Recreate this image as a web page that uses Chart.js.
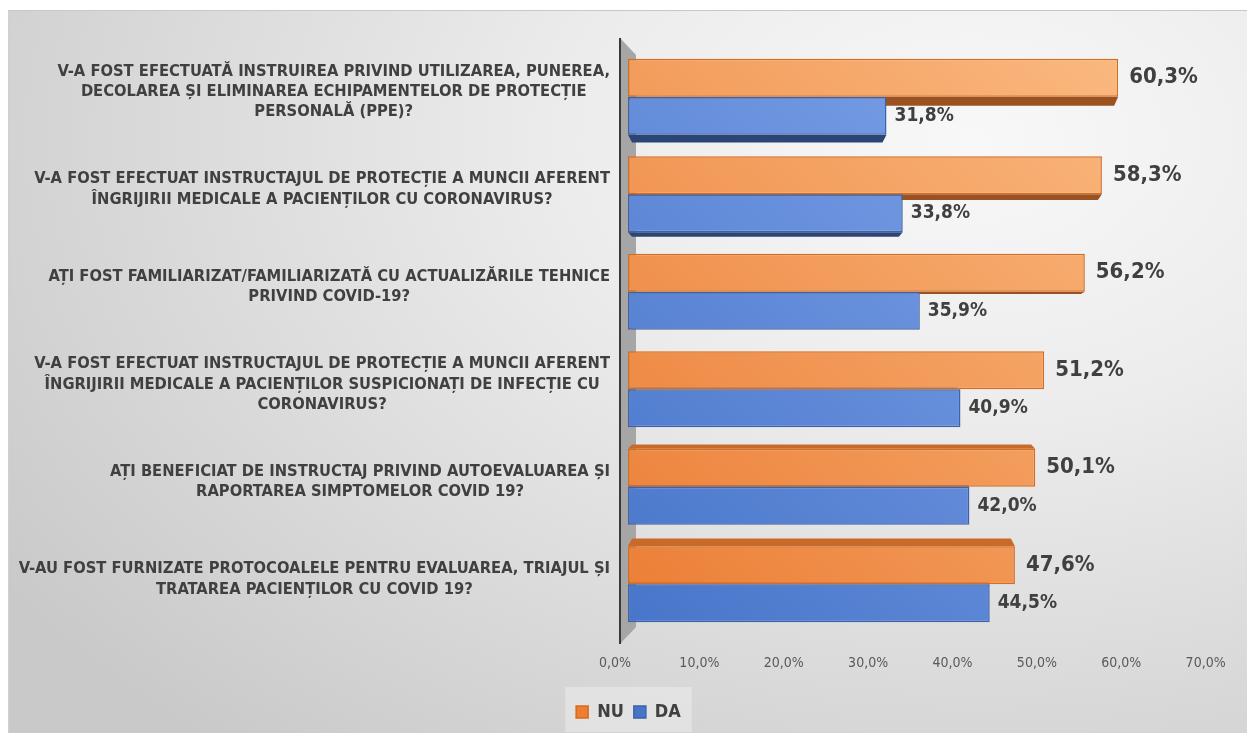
<!DOCTYPE html>
<html>
<head>
<meta charset="utf-8">
<script src="https://cdn.jsdelivr.net/npm/chart.js@4/dist/chart.umd.min.js"></script>
<style>
  html, body { margin: 0; padding: 0; background: #fff; }
  #wrap {
    position: absolute; left: 0; top: 0; width: 1247px; height: 733px;
  }
  #bg {
    position: absolute; left: 8px; top: 10px; width: 1239px; height: 723px;
    border-top: 1px solid #c8c8c8; border-left: 1px solid #d0d0d0;
    background: radial-gradient(ellipse 95% 110% at 78% 18%, #f8f8f8 0%, #ececec 35%, #dcdcdc 65%, #c9c9c9 100%);
  }
  canvas { position: absolute; left: 0; top: 0; }
</style>
</head>
<body>
<div id="wrap">
  <div id="bg"></div>
  <canvas id="chart" width="1247" height="733"></canvas>
</div>
<script>
// intrebari (categorii), de sus in jos
var intrebari = [
  ['V-A FOST EFECTUATĂ INSTRUIREA PRIVIND UTILIZAREA, PUNEREA,', 'DECOLAREA ȘI ELIMINAREA ECHIPAMENTELOR DE PROTECȚIE', 'PERSONALĂ (PPE)?'],
  ['V-A FOST EFECTUAT INSTRUCTAJUL DE PROTECȚIE A MUNCII AFERENT', 'ÎNGRIJIRII MEDICALE A PACIENȚILOR CU CORONAVIRUS?'],
  ['AȚI FOST FAMILIARIZAT/FAMILIARIZATĂ CU ACTUALIZĂRILE TEHNICE', 'PRIVIND COVID-19?'],
  ['V-A FOST EFECTUAT INSTRUCTAJUL DE PROTECȚIE A MUNCII AFERENT', 'ÎNGRIJIRII MEDICALE A PACIENȚILOR SUSPICIONAȚI DE INFECȚIE CU', 'CORONAVIRUS?'],
  ['AȚI BENEFICIAT DE INSTRUCTAJ PRIVIND AUTOEVALUAREA ȘI', 'RAPORTAREA SIMPTOMELOR COVID 19?'],
  ['V-AU FOST FURNIZATE PROTOCOALELE PENTRU EVALUAREA, TRIAJUL ȘI', 'TRATAREA PACIENȚILOR CU COVID 19?']
];
var valoriNU = [60.3, 58.3, 56.2, 51.2, 50.1, 47.6];
var valoriDA = [31.8, 33.8, 35.9, 40.9, 42.0, 44.5];
var axaMin = 0, axaMax = 70, axaPas = 10;

var FONT = "'Liberation Sans Narrow', 'DejaVu Sans Condensed', sans-serif";

function fmt(v) {
  return v.toFixed(1).replace('.', ',') + '%';
}

function gradient(ctx, area, c1, c2) {
  var g = ctx.createLinearGradient(area.left, area.bottom, area.right, area.top);
  g.addColorStop(0, c1);
  g.addColorStop(1, c2);
  return g;
}

// peretele gri din stanga (efect 3D)
var perete = {
  id: 'perete',
  beforeDatasetsDraw: function (chart) {
    var ctx = chart.ctx, a = chart.chartArea;
    var x = a.left - 8;
    ctx.save();
    ctx.fillStyle = '#a6a6a6';
    ctx.beginPath();
    ctx.moveTo(x, a.top - 10);
    ctx.lineTo(x + 16, a.top + 7);
    ctx.lineTo(x + 16, a.bottom - 6);
    ctx.lineTo(x, a.bottom + 11);
    ctx.closePath();
    ctx.fill();
    ctx.strokeStyle = '#3a3a3a';
    ctx.lineWidth = 2;
    ctx.beginPath();
    ctx.moveTo(x, a.top - 10);
    ctx.lineTo(x, a.bottom + 11);
    ctx.stroke();
    ctx.restore();
  }
};

// fetele de sus/jos ale barelor (perspectiva)
var fete = {
  id: 'fete',
  beforeDatasetsDraw: function (chart) {
    var ctx = chart.ctx, a = chart.chartArea;
    var cy = (a.top + a.bottom) / 2, half = (a.bottom - a.top) / 2;
    var culoriJos = ['#9c5220', '#2c4577'];
    var culoriSus = ['#c96a2a', '#3a5fa5'];
    ctx.save();
    chart.data.datasets.forEach(function (ds, i) {
      chart.getDatasetMeta(i).data.forEach(function (el) {
        var p = el.getProps(['x', 'y', 'base', 'height'], true);
        var t = (p.y - cy) / half;
        var h = Math.abs(t) * 10;
        if (h < 1.5) return;
        var x0 = p.base, x1 = p.x;
        var yE = t < 0 ? p.y + p.height / 2 : p.y - p.height / 2;
        var yF = t < 0 ? yE + h : yE - h;
        ctx.fillStyle = t < 0 ? culoriJos[i] : culoriSus[i];
        ctx.beginPath();
        ctx.moveTo(x0, yE);
        ctx.lineTo(x1, yE);
        ctx.lineTo(x1 - 4, yF);
        ctx.lineTo(x0 + 4, yF);
        ctx.closePath();
        ctx.fill();
      });
    });
    ctx.restore();
  }
};

// etichete: y centrate pe linii (bloc aliniat la dreapta), x pe podeaua 3D
var etichete = {
  id: 'etichete',
  beforeDraw: function (chart) {
    var ctx = chart.ctx, a = chart.chartArea;
    var right = a.left - 18;
    chart.scales.y.getLabelItems().forEach(function (it) {
      ctx.font = it.font.string;
      var lines = Array.isArray(it.label) ? it.label : [it.label];
      var w = 0;
      lines.forEach(function (l) { w = Math.max(w, ctx.measureText(l).width); });
      it.options.textAlign = 'center';
      it.options.translation[0] = right - w / 2;
      it.options.translation[1] -= 5;
    });
    chart.scales.x.getLabelItems().forEach(function (it) {
      var x = it.options.translation[0];
      it.options.translation[0] = a.left - 13 + (x - a.left) * 1.038;
    });
  }
};

// valori la capatul barelor
var valori = {
  id: 'valori',
  afterDatasetsDraw: function (chart) {
    var ctx = chart.ctx;
    ctx.save();
    ctx.fillStyle = '#404040';
    ctx.textBaseline = 'middle';
    ctx.textAlign = 'left';
    chart.data.datasets.forEach(function (ds, i) {
      var meta = chart.getDatasetMeta(i);
      ctx.font = (i === 0 ? 'bold 22px ' : 'bold 19px ') + FONT;
      meta.data.forEach(function (el, j) {
        ctx.fillText(fmt(ds.data[j]), el.x + (i === 0 ? 11 : 8), el.y);
      });
    });
    ctx.restore();
  }
};

// legenda: mutata putin si cu fundal deschis
var legenda = {
  id: 'legenda',
  afterLayout: function (chart) {
    var lg = chart.legend;
    lg.left += 26; lg.right += 26;
    lg.top += 4; lg.bottom += 4;
  },
  beforeDraw: function (chart) {
    var lg = chart.legend;
    if (!lg || !lg.lineWidths) return;
    var w = lg.lineWidths[0] + 12;
    var cx = (lg.left + lg.right) / 2;
    var ctx = chart.ctx;
    ctx.save();
    ctx.fillStyle = 'rgba(236,236,236,0.55)';
    ctx.fillRect(cx - w / 2, lg.top - 6, w, 45);
    ctx.restore();
  }
};

var ctx = document.getElementById('chart').getContext('2d');
var chart = new Chart(ctx, {
  type: 'bar',
  data: {
    labels: intrebari,
    datasets: [{
      label: 'NU',
      data: valoriNU,
      backgroundColor: function (c) {
        var a = c.chart.chartArea;
        if (!a) return '#ED7D31';
        return gradient(c.chart.ctx, a, '#eb7d34', '#fbbd85');
      },
      borderColor: '#d66c1e',
      borderWidth: 1.5,
      borderSkipped: false
    }, {
      label: 'DA',
      data: valoriDA,
      backgroundColor: function (c) {
        var a = c.chart.chartArea;
        if (!a) return '#4472C4';
        return gradient(c.chart.ctx, a, '#4775c9', '#86a9ee');
      },
      borderColor: '#3d62a8',
      borderWidth: 1.5,
      borderSkipped: false
    }]
  },
  options: {
    indexAxis: 'y',
    responsive: false,
    animation: false,
    devicePixelRatio: 1,
    layout: { padding: { left: 8, top: 48, right: 50, bottom: 6 } },
    datasets: {
      bar: { categoryPercentage: 0.78, barPercentage: 1 }
    },
    scales: {
      x: {
        min: axaMin,
        max: axaMax,
        border: { display: false },
        grid: { display: false, drawTicks: false },
        ticks: {
          stepSize: axaPas,
          padding: 22,
          color: '#595959',
          font: { family: FONT, size: 14 },
          callback: function (v) { return fmt(v); }
        },
        afterFit: function (s) { s.height = 56; }
      },
      y: {
        border: { display: false },
        grid: { display: false, drawTicks: false },
        ticks: {
          color: '#404040',
          padding: 18,
          font: { family: FONT, size: 16.4, weight: 'bold', lineHeight: 1.22 }
        },
        afterFit: function (s) { s.width = 620; }
      }
    },
    plugins: {
      legend: {
        position: 'bottom',
        labels: {
          color: '#404040',
          boxWidth: 12,
          boxHeight: 12,
          padding: 10,
          font: { family: FONT, size: 18, weight: 'bold' }
        }
      },
      tooltip: { enabled: false }
    }
  },
  plugins: [legenda, etichete, perete, fete, valori]
});
</script>
</body>
</html>
